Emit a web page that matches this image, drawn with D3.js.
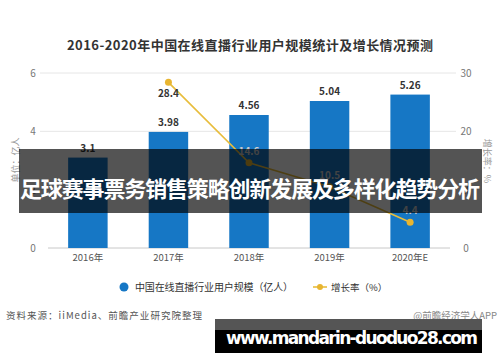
<!DOCTYPE html>
<html>
<head>
<meta charset="utf-8">
<script src="https://cdn.jsdelivr.net/npm/d3@7"></script>
<style>
  body { margin: 0; background: #fff; }
  svg { display: block; font-family: "Noto Sans CJK SC", "Noto Sans", sans-serif; }
</style>
</head>
<body>
<svg id="viz"></svg>
<script>
const years = ["2016年", "2017年", "2018年", "2019年", "2020年E"];
const users = [3.1, 3.98, 4.56, 5.04, 5.26];
const growth = [null, 28.4, 14.6, 10.5, 4.4];
const leftTicks = [0, 2, 4, 6];
const rightTicks = [0, 10, 20, 30];

const width = 500;
const height = 362;

const svg = d3.select("#viz")
  .attr("width", width)
  .attr("height", height);

svg.append("rect")
  .attr("width", width)
  .attr("height", height)
  .attr("fill", "#fff");

// --- Title ---
svg.append("text")
  .attr("x", 250)
  .attr("y", 50)
  .attr("text-anchor", "middle")
  .attr("font-size", "13px")
  .attr("font-weight", "bold")
  .attr("fill", "#333")
  .attr("textLength", 366)
  .text("2016-2020年中国在线直播行业用户规模统计及增长情况预测");

// --- Scales ---
const x = d3.scaleBand()
  .domain(years)
  .range([48, 450])
  .paddingInner(0.51)
  .paddingOuter(0.25);

const yL = d3.scaleLinear().domain([0, 6]).range([248, 73]);
const yR = d3.scaleLinear().domain([0, 30]).range([248, 73]);

// --- Grid lines ---
svg.append("g")
  .selectAll("line")
  .data(leftTicks.filter(d => d > 0))
  .join("line")
  .attr("x1", 40)
  .attr("x2", 456)
  .attr("y1", d => yL(d))
  .attr("y2", d => yL(d))
  .attr("stroke", "#e6e6e6")
  .attr("stroke-width", 1);

svg.append("line")
  .attr("x1", 48).attr("x2", 450)
  .attr("y1", yL(0)).attr("y2", yL(0))
  .attr("stroke", "#c8c8c8");

// --- Axes labels ---
svg.append("g")
  .selectAll("text")
  .data(leftTicks)
  .join("text")
  .attr("x", 33)
  .attr("y", d => yL(d) + 4)
  .attr("text-anchor", "middle")
  .attr("font-size", "10px")
  .attr("fill", "#777")
  .text(d => d);

svg.append("g")
  .selectAll("text")
  .data(rightTicks)
  .join("text")
  .attr("x", 466)
  .attr("y", d => yR(d) + 4)
  .attr("text-anchor", "middle")
  .attr("font-size", "10px")
  .attr("fill", "#777")
  .text(d => d);

svg.append("g")
  .selectAll("text")
  .data(years)
  .join("text")
  .attr("x", d => x(d) + x.bandwidth() / 2)
  .attr("y", 261)
  .attr("text-anchor", "middle")
  .attr("font-size", "9.5px")
  .attr("fill", "#555")
  .text(d => d);

svg.append("text")
  .attr("transform", "translate(19,160) rotate(-90)")
  .attr("text-anchor", "middle")
  .attr("font-size", "9px")
  .attr("fill", "#999")
  .text("单位：亿人");

svg.append("text")
  .attr("transform", "translate(484,161) rotate(90)")
  .attr("text-anchor", "middle")
  .attr("font-size", "9px")
  .attr("fill", "#999")
  .text("增长率：%");

// --- Bars ---
svg.append("g")
  .selectAll("rect")
  .data(users)
  .join("rect")
  .attr("x", (d, i) => x(years[i]))
  .attr("y", d => yL(d))
  .attr("width", x.bandwidth())
  .attr("height", d => yL(0) - yL(d))
  .attr("fill", "#1677c5");

svg.append("g")
  .selectAll("text")
  .data(users)
  .join("text")
  .attr("x", (d, i) => x(years[i]) + x.bandwidth() / 2)
  .attr("y", d => yL(d) - 6)
  .attr("text-anchor", "middle")
  .attr("font-size", "10px")
  .attr("font-weight", "bold")
  .attr("fill", "#333")
  .text(d => d);

// --- Growth line ---
const pts = growth
  .map((g, i) => ({ g, year: years[i] }))
  .filter(d => d.g !== null);

const line = d3.line()
  .x(d => x(d.year) + x.bandwidth() / 2)
  .y(d => yR(d.g));

svg.append("path")
  .datum(pts)
  .attr("d", line)
  .attr("fill", "none")
  .attr("stroke", "#e8bd3c")
  .attr("stroke-width", 1.6);

svg.append("g")
  .selectAll("circle")
  .data(pts)
  .join("circle")
  .attr("cx", d => x(d.year) + x.bandwidth() / 2)
  .attr("cy", d => yR(d.g))
  .attr("r", 3.5)
  .attr("fill", "#e8b530");

svg.append("g")
  .selectAll("text")
  .data(pts)
  .join("text")
  .attr("x", d => x(d.year) + x.bandwidth() / 2)
  .attr("y", (d, i) => i === 0 ? yR(d.g) + 15 : yR(d.g) - 8)
  .attr("text-anchor", "middle")
  .attr("font-size", "10px")
  .attr("font-weight", "bold")
  .attr("fill", (d, i) => i === 0 ? "#333" : "#ccc")
  .text(d => d.g);

// --- Legend ---
svg.append("circle")
  .attr("cx", 124).attr("cy", 287).attr("r", 4.5)
  .attr("fill", "#1677c5");
svg.append("text")
  .attr("x", 135).attr("y", 291)
  .attr("font-size", "10px")
  .attr("fill", "#333")
  .attr("textLength", 158)
  .text("中国在线直播行业用户规模（亿人）");

svg.append("line")
  .attr("x1", 313).attr("x2", 327)
  .attr("y1", 287).attr("y2", 287)
  .attr("stroke", "#e8bd3c").attr("stroke-width", 1.6);
svg.append("circle")
  .attr("cx", 320).attr("cy", 287).attr("r", 3)
  .attr("fill", "#e8b530");
svg.append("text")
  .attr("x", 331).attr("y", 291)
  .attr("font-size", "9.5px")
  .attr("fill", "#333")
  .text("增长率（%）");

// --- Source ---
svg.append("text")
  .attr("x", 6).attr("y", 319)
  .attr("font-size", "9.5px")
  .attr("fill", "#555")
  .attr("textLength", 196)
  .text("资料来源：iiMedia、前瞻产业研究院整理");

svg.append("text")
  .attr("x", 497).attr("y", 319)
  .attr("text-anchor", "end")
  .attr("font-size", "9.5px")
  .attr("fill", "#888")
  .text("@前瞻经济学人APP");

// --- Banner overlay ---
svg.append("rect")
  .attr("x", 19).attr("y", 149)
  .attr("width", 463).attr("height", 64)
  .attr("fill", "rgba(0,0,0,0.67)");

svg.append("text")
  .attr("x", 250).attr("y", 197)
  .attr("text-anchor", "middle")
  .attr("font-size", "22px")
  .attr("font-weight", "bold")
  .attr("fill", "#fff")
  .attr("textLength", 460)
  .text("足球赛事票务销售策略创新发展及多样化趋势分析");

// --- URL box ---
svg.append("rect")
  .attr("x", 215).attr("y", 319)
  .attr("width", 267).attr("height", 11)
  .attr("fill", "#555");
svg.append("rect")
  .attr("x", 215).attr("y", 330)
  .attr("width", 267).attr("height", 23)
  .attr("fill", "#000");
svg.append("text")
  .attr("x", 226).attr("y", 344)
  .attr("font-size", "17px")
  .attr("font-weight", "bold")
  .attr("fill", "#fff")
  .attr("textLength", 252)
  .attr("font-family", "'DejaVu Sans', sans-serif")
  .text("www.mandarin-duoduo28.com");
</script>
</body>
</html>
